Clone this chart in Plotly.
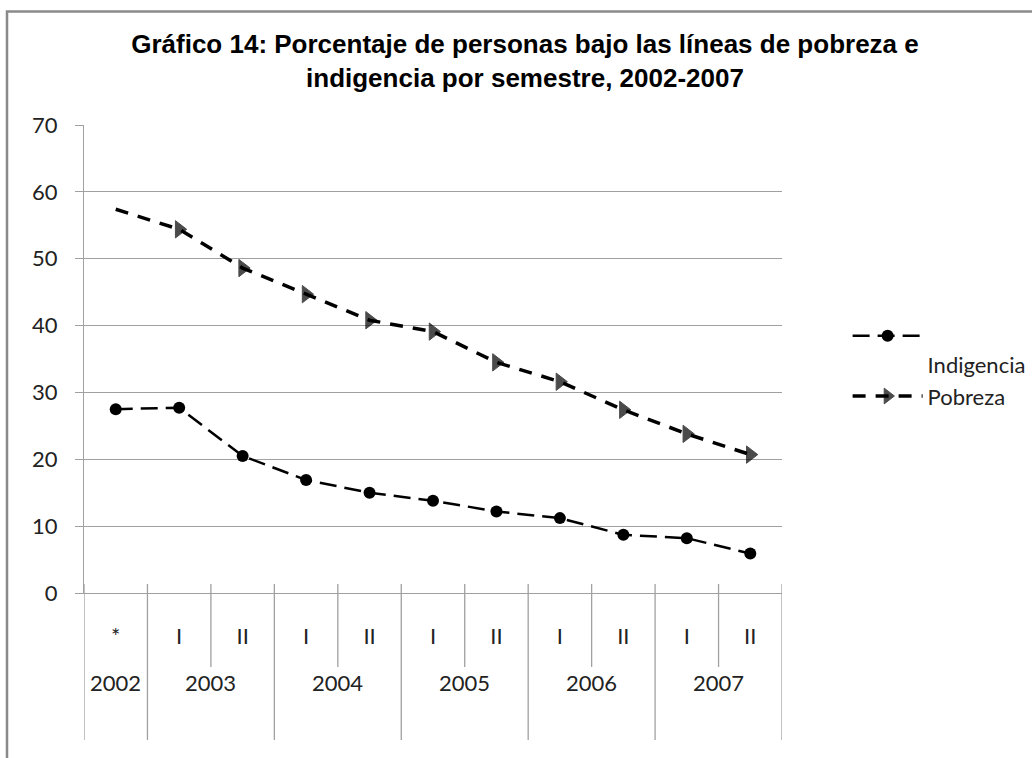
import plotly.graph_objects as go

# Semester / year categories on the x axis
semestre = ["*", "I", "II", "I", "II", "I", "II", "I", "II", "I", "II"]
anio = ["2002", "2003", "2003", "2004", "2004", "2005", "2005",
        "2006", "2006", "2007", "2007"]

# Percentage of people below each line
indigencia = [27.5, 27.7, 20.5, 16.9, 15.0, 13.8, 12.2, 11.2, 8.7, 8.2, 5.9]
pobreza = [57.4, 54.4, 48.6, 44.7, 40.8, 39.1, 34.5, 31.6, 27.4, 23.8, 20.7]

y_ticks = [0, 10, 20, 30, 40, 50, 60, 70]

titulo = ("Gráfico 14: Porcentaje de personas bajo las líneas de pobreza e"
          "<br>indigencia por semestre, 2002-2007")

idx = list(range(len(semestre)))
GRID = "#a0a0a0"
TXT = "#222222"
FONT = "Lato, Calibri, sans-serif"

fig = go.Figure()

fig.add_trace(go.Scatter(
    x=idx, y=indigencia, name="<br>Indigencia", mode="lines+markers",
    line=dict(color="black", width=2.5, dash="17px,8px"),
    marker=dict(symbol="circle", size=12, color="black",
                line=dict(width=0)),
))

# the first semester of the series has no marker
pob_sizes = [0] + [15] * (len(pobreza) - 1)
fig.add_trace(go.Scatter(
    x=idx, y=pobreza, name="Pobreza", mode="lines+markers",
    line=dict(color="black", width=3.5, dash="13px,10px"),
    marker=dict(symbol="triangle-right", size=pob_sizes, color="black",
                line=dict(width=1, color="black")),
))

# category dividers: long at year boundaries, short between semesters
shapes = []
n = len(anio)
for k in range(n + 1):
    b = k - 0.5
    year_edge = k == 0 or k == n or anio[k - 1] != anio[k]
    shapes.append(dict(
        type="line", xref="x", yref="paper", x0=b, x1=b,
        y0=0.0192, y1=-0.314 if year_edge else -0.158,
        line=dict(color=GRID, width=1.3),
    ))

# outer chart border
shapes.append(dict(
    type="rect", xref="paper", yref="paper",
    x0=-0.1103, x1=1.6, y0=-0.6, y1=1.2425,
    line=dict(color="#8a8a8a", width=2.5), fillcolor="rgba(0,0,0,0)",
))

# year labels centred under their semesters
annotations = []
for yr in dict.fromkeys(anio):
    pos = [i for i, a in enumerate(anio) if a == yr]
    annotations.append(dict(
        x=sum(pos) / len(pos), y=-0.192, xref="x", yref="paper",
        text=yr, showarrow=False, xanchor="center", yanchor="middle",
        font=dict(family=FONT, size=22, color=TXT),
    ))

fig.update_layout(
    width=1032, height=758, autosize=False,
    margin=dict(l=84, r=250, t=125, b=165, pad=0, autoexpand=False),
    paper_bgcolor="white", plot_bgcolor="white",
    title=dict(
        text=titulo, xref="container", yref="container",
        x=0.5087, xanchor="center", y=1 - 53 / 758, yanchor="top",
        font=dict(family="Liberation Sans, Arial, sans-serif", size=26,
                  color="black", weight="bold"),
    ),
    xaxis=dict(
        range=[-0.5, 10.5], tickmode="array", tickvals=idx, ticktext=semestre,
        showgrid=False, zeroline=False, showline=True, linecolor=GRID,
        linewidth=1.3, ticks="", ticklabelstandoff=23, automargin=False,
        tickfont=dict(family=FONT, size=22, color=TXT),
    ),
    yaxis=dict(
        range=[0, 70], tickmode="array", tickvals=y_ticks,
        showgrid=True, gridcolor=GRID, gridwidth=1.3, zeroline=False,
        showline=True, linecolor=GRID, linewidth=1.3,
        ticks="outside", ticklen=8, tickcolor=GRID, tickwidth=1.3,
        ticklabelstandoff=13, automargin=False,
        tickfont=dict(family=FONT, size=22, color=TXT),
    ),
    legend=dict(
        x=1.094, y=0.594, xanchor="left", yanchor="top",
        valign="top", itemwidth=70,
        font=dict(family=FONT, size=22, color=TXT),
        bgcolor="rgba(0,0,0,0)",
    ),
    shapes=shapes,
    annotations=annotations,
)

fig.write_html("out.html")
